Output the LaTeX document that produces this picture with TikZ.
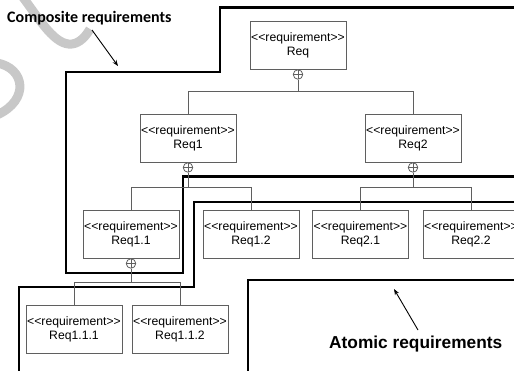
\documentclass[tikz,border=0pt]{standalone}
\usepackage{fontspec}
\newfontfamily\boxfont{Liberation Sans}[Ligatures=TeXOff]
\newfontfamily\calibri{Carlito}
\usetikzlibrary{arrows.meta}
\definecolor{boxgray}{RGB}{95,95,95}
\definecolor{scribblegray}{RGB}{200,200,200}
\begin{document}
\begin{tikzpicture}[x=1pt,y=-1pt,
  req/.style={draw=boxgray, line width=0.8pt, fill=white, minimum width=96pt, minimum height=48pt,
    align=center, inner sep=0pt, font=\boxfont\fontsize{12.2}{14}\selectfont},
  conn/.style={draw=boxgray, line width=0.8pt},
  comp/.style={circle, draw=boxgray, line width=0.8pt, fill=white, minimum size=9.5pt, inner sep=0pt,
    path picture={\draw[boxgray,line width=0.7pt]
      (path picture bounding box.north) -- (path picture bounding box.south)
      (path picture bounding box.west) -- (path picture bounding box.east);}},
  bound/.style={line width=2.6pt, black},
  callout/.style={-{Stealth[length=6pt,width=4.5pt]}, line width=0.9pt},
  scribble/.style={line width=9pt, color=scribblegray, line cap=butt}
]
\useasboundingbox (0,0) rectangle (514,370);
\clip (0,0) rectangle (514,370);

% light gray scribbles
\draw[scribble] (22,-4) .. controls (40,20) and (55,46) .. (72,44) .. controls (80,43) and (86,36) .. (90,29);
\draw[scribble] (-3,63) .. controls (25,68) and (30,100) .. (-3,115);

% thick boundary lines
\draw[bound] (516,7.5) -- (220,7.5) -- (220,72) -- (66,72) -- (66,273) -- (183,273) -- (183,176.5) -- (516,176.5);
\draw[bound] (516,202) -- (194,202) -- (194,287) -- (19,287) -- (19,372);
\draw[bound] (516,280) -- (248,280) -- (248,372);

% requirement boxes
\node[req] (req)   at (298,45)    {<<requirement>>\\Req};
\node[req] (req1)  at (188,138.5) {<<requirement>>\\Req1};
\node[req] (req2)  at (413,138.5) {<<requirement>>\\Req2};
\node[req] (req11) at (131,234)   {<<requirement>>\\Req1.1};
\node[req] (req12) at (251,234)   {<<requirement>>\\Req1.2};
\node[req] (req21) at (360.5,234) {<<requirement>>\\Req2.1};
\node[req] (req22) at (471,234)   {<<requirement>>\\Req2.2};
\node[req] (req111) at (74,329)   {<<requirement>>\\Req1.1.1};
\node[req] (req112) at (180,329)  {<<requirement>>\\Req1.1.2};

% composition circles
\node[comp] (cReq)  at (298,74.5) {};
\node[comp] (cReq1) at (188,167.5) {};
\node[comp] (cReq2) at (413,167.5) {};
\node[comp] (cReq11) at (131,263.5) {};

% junctions
\coordinate (jReq)  at (298,91.5);
\coordinate (jReq1) at (188,187);
\coordinate (jReq2) at (413,187);
\coordinate (jReq11) at (131,282);

% connectors
\draw[conn] (cReq.south) -- (jReq);
\draw[conn] (jReq) -| (req1.north);
\draw[conn] (jReq) -| (req2.north);
\draw[conn] (cReq1.south) -- (jReq1);
\draw[conn] (jReq1) -| (req11.north);
\draw[conn] (jReq1) -| (req12.north);
\draw[conn] (cReq2.south) -- (jReq2);
\draw[conn] (jReq2) -| (req21.north);
\draw[conn] (jReq2) -| (req22.north);
\draw[conn] (cReq11.south) -- (jReq11);
\draw[conn] (jReq11) -| (req111.north);
\draw[conn] (jReq11) -| (req112.north);

% labels
\node[anchor=base west, inner sep=0pt, font=\calibri\bfseries\fontsize{16}{18}\selectfont] (compLabel) at (7,22.5) {Composite requirements};
\node[anchor=base west, inner sep=0pt, font=\boxfont\bfseries\fontsize{17.3}{20}\selectfont] (atomLabel) at (329,348) {Atomic requirements};

\coordinate (compFrom) at (92,30);
\coordinate (compTo) at (118,66);
\coordinate (atomFrom) at (418,330);
\coordinate (atomTo) at (394,289);
\draw[callout] (compFrom) -- (compTo);
\draw[callout] (atomFrom) -- (atomTo);
\end{tikzpicture}
\end{document}
